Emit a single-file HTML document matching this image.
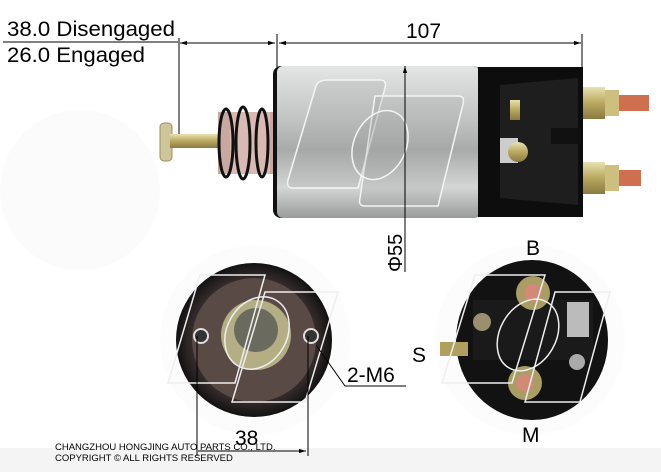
<!DOCTYPE html>
<html><head><meta charset="utf-8"><style>html,body{margin:0;padding:0;background:#fff}svg{display:block}</style></head>
<body>
<svg width="661" height="472" viewBox="0 0 661 472" xmlns="http://www.w3.org/2000/svg" font-family="Liberation Sans Narrow, Liberation Sans, Arial, sans-serif">
<defs>
<linearGradient id="sil" x1="0" y1="0" x2="0" y2="1">
<stop offset="0" stop-color="#e4e6e6"/><stop offset="0.35" stop-color="#c2c4c4"/><stop offset="0.55" stop-color="#a9abab"/><stop offset="0.8" stop-color="#d4d6d6"/><stop offset="1" stop-color="#9a9c9c"/></linearGradient>
<linearGradient id="gold" x1="0" y1="0" x2="0" y2="1"><stop offset="0" stop-color="#e9e2b0"/><stop offset="0.5" stop-color="#b8a860"/><stop offset="1" stop-color="#8a7a40"/></linearGradient>
<radialGradient id="disk" cx="0.5" cy="0.5" r="0.5"><stop offset="0.6" stop-color="#4a3e3c"/><stop offset="0.85" stop-color="#2e2626"/><stop offset="1" stop-color="#111"/></radialGradient>
<marker id="ar" viewBox="0 0 10 10" refX="10" refY="5" markerWidth="7" markerHeight="7" orient="auto-start-reverse"><path d="M0,2L10,5L0,8z" fill="#000"/></marker>
</defs>
<rect x="0" y="448" width="661" height="24" fill="#f4f4f4"/>
<circle cx="80" cy="190" r="80" fill="#fbfbfb"/>
<text x="7" y="36" font-size="21" textLength="168" lengthAdjust="spacingAndGlyphs">38.0 Disengaged</text>
<line x1="3" y1="42" x2="178" y2="42" stroke="#000" stroke-width="1"/>
<text x="7" y="62" font-size="21" textLength="138" lengthAdjust="spacingAndGlyphs">26.0 Engaged</text>
<text x="406" y="38" font-size="21">107</text>
<line x1="179" y1="38" x2="179" y2="140" stroke="#000"/>
<line x1="277" y1="34" x2="277" y2="80" stroke="#000"/>
<line x1="582" y1="34" x2="582" y2="72" stroke="#000"/>
<line x1="180" y1="43" x2="275" y2="43" stroke="#000" marker-start="url(#ar)" marker-end="url(#ar)"/>
<line x1="279" y1="43" x2="581" y2="43" stroke="#000" marker-start="url(#ar)" marker-end="url(#ar)"/>
<rect x="160" y="123" width="12" height="38" rx="4" fill="#cfc59a" stroke="#9b8f5a"/>
<rect x="170" y="134" width="50" height="14" fill="url(#gold)"/>
<rect x="218" y="112" width="55" height="62" fill="#c8a8a0"/>
<rect x="230" y="112" width="40" height="62" fill="#d9bab2"/>
<g fill="none" stroke="#111" stroke-width="3">
<ellipse cx="226" cy="143" rx="7" ry="34"/><ellipse cx="243" cy="143" rx="7" ry="36"/><ellipse cx="262" cy="143" rx="6" ry="34"/></g>
<rect x="273" y="66" width="208" height="152" rx="8" fill="#111"/>
<rect x="277" y="66" width="202" height="152" rx="6" fill="url(#sil)"/>
<rect x="478" y="67" width="105" height="150" fill="#0d0d0d"/>
<path d="M500,85 L578,78 L578,205 L500,198 Z" fill="#1e1e1e"/>
<rect x="510" y="100" width="10" height="20" fill="url(#gold)"/>
<rect x="500" y="138" width="18" height="25" fill="#ccc"/>
<circle cx="518" cy="152" r="10" fill="url(#gold)"/>
<rect x="551" y="128" width="30" height="16" fill="#111"/>
<rect x="583" y="87" width="22" height="32" fill="url(#gold)"/><rect x="605" y="90" width="14" height="26" fill="#cdbf80"/>
<rect x="619" y="95" width="30" height="16" fill="#d06f50"/>
<rect x="583" y="162" width="22" height="32" fill="url(#gold)"/><rect x="605" y="165" width="14" height="26" fill="#cdbf80"/>
<rect x="619" y="170" width="22" height="16" fill="#d06f50"/>
<g fill="rgba(160,160,160,0.25)" stroke="#f4f4f4" stroke-width="1.5">
<path d="M328,80 L380,80 Q387,80 385,88 L358,188 L293,188 Q286,188 288,180 L316,86 Q318,80 328,80 Z"/>
<path d="M375,96 L458,96 Q465,96 463,104 L438,206 L365,206 Q358,206 360,198 Z"/>
<ellipse cx="380" cy="145" rx="26" ry="36" transform="rotate(25 380 145)"/></g>
<line x1="405" y1="66" x2="405" y2="272" stroke="#000" marker-start="url(#ar)"/>
<text transform="translate(402,272) rotate(-90)" font-size="20">Φ55</text>
<circle cx="255" cy="340" r="95" fill="#fcfcfc"/>
<ellipse cx="254" cy="340" rx="78" ry="77" fill="url(#disk)"/>
<ellipse cx="254" cy="340" rx="62" ry="62" fill="#5a4a46"/>
<circle cx="256" cy="335" r="35" fill="#b3ae83"/>
<circle cx="256" cy="330" r="22" fill="#6b6a5e"/>
<circle cx="201" cy="336" r="7" fill="#333" stroke="#ddd" stroke-width="2"/>
<circle cx="311" cy="336" r="7" fill="#333" stroke="#ddd" stroke-width="2"/>
<g fill="none" stroke="#eee" stroke-width="1.5">
<path d="M200,275 L265,275 L235,383 L168,383 Z"/><path d="M265,292 L338,292 L305,402 L232,402 Z"/>
<ellipse cx="257" cy="333" rx="30" ry="38" transform="rotate(30 257 333)"/></g>
<line x1="197" y1="336" x2="197" y2="456" stroke="#000"/>
<line x1="308" y1="336" x2="308" y2="456" stroke="#000"/>
<line x1="198" y1="451" x2="306" y2="451" stroke="#000" marker-end="url(#ar)"/>
<text x="235" y="445" font-size="21">38</text>
<polyline points="316,345 345,386 406,386" fill="none" stroke="#000"/>
<text x="347" y="382" font-size="21">2-M6</text>
<circle cx="530" cy="340" r="95" fill="#fcfcfc"/>
<ellipse cx="532" cy="340" rx="76" ry="80" fill="#121212"/>
<rect x="473" y="300" width="120" height="60" fill="#1a1a1a"/>
<circle cx="533" cy="293" r="17" fill="#a89d62"/><circle cx="533" cy="293" r="9" fill="#d08a75"/>
<circle cx="525" cy="383" r="17" fill="#a89d62"/><circle cx="525" cy="383" r="9" fill="#d08a75"/>
<circle cx="482" cy="322" r="9" fill="#9a9070"/><circle cx="577" cy="362" r="8" fill="#aaa"/>
<rect x="567" y="302" width="22" height="35" fill="#bbb"/>
<rect x="440" y="342" width="28" height="14" fill="#b0a060"/>
<g fill="none" stroke="#eee" stroke-width="1.5">
<path d="M475,275 L545,275 L512,383 L442,383 Z"/><path d="M555,292 L610,292 L580,402 L525,402 Z"/>
<ellipse cx="528" cy="335" rx="28" ry="38" transform="rotate(30 528 335)"/></g>
<text x="526" y="255" font-size="21">B</text>
<text x="412" y="362" font-size="21">S</text>
<text x="522" y="442" font-size="21">M</text>
<text x="55" y="450" font-size="9.5">CHANGZHOU HONGJING AUTO PARTS CO., LTD.</text>
<text x="55" y="461" font-size="9.5">COPYRIGHT © ALL RIGHTS RESERVED</text>
</svg>
</body></html>
